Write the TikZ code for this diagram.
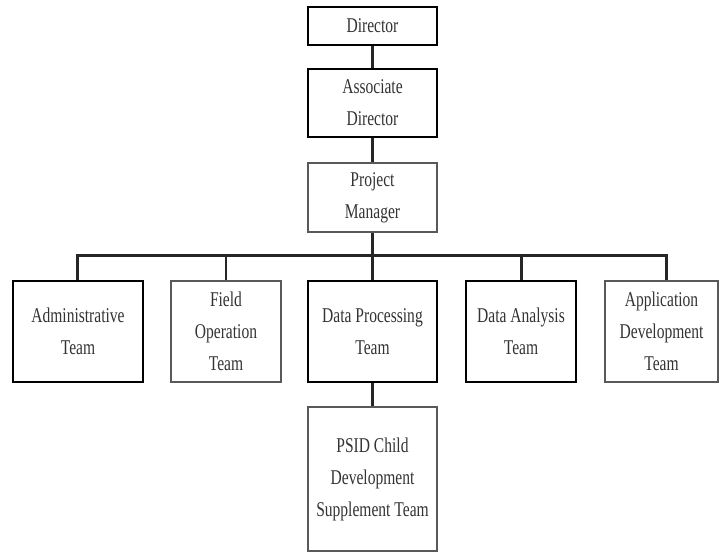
\documentclass[tikz,border=0pt]{standalone}
\usepackage{fontspec}
\setmainfont{Liberation Serif}[FakeStretch=0.74]
\begin{document}
\begin{tikzpicture}[x=1pt,y=-1pt,
  box/.style={draw=black, line width=2.2pt, rectangle, inner sep=0pt, align=center,
    font=\fontsize{21}{32}\selectfont, text=black!80},
  lbox/.style={box, draw=black!65},
  conn/.style={draw=black!85, line width=3pt}]
\useasboundingbox (0,0) rectangle (720,553);
\node[box, minimum width=129, minimum height=38] (dir) at (372.5,26) {Director};
\node[box, minimum width=129, minimum height=68] (adir) at (372.5,103) {Associate\\Director};
\node[lbox, minimum width=129, minimum height=69] (pm) at (372.5,197.5) {Project\\Manager};
\node[box, minimum width=130, minimum height=101] (adm) at (78,331.5) {Administrative\\Team};
\node[lbox, minimum width=110, minimum height=101] (fld) at (226,331.5) {Field\\Operation\\Team};
\node[box, minimum width=129, minimum height=101] (dp) at (372.5,331.5) {Data Processing\\Team};
\node[box, minimum width=110, minimum height=101] (da) at (521,331.5) {Data Analysis\\Team};
\node[lbox, minimum width=113, minimum height=101] (app) at (661.5,331.5) {Application\\Development\\Team};
\node[lbox, minimum width=129, minimum height=144] (psid) at (372.5,479) {PSID Child\\Development\\Supplement Team};
\coordinate (busL) at (77,256);
\coordinate (busR) at (666,256);
\draw[conn] (dir) -- (adir);
\draw[conn] (adir) -- (pm);
\draw[conn] (pm.south) -- (pm.south |- busL);
\draw[conn, line cap=rect] (busL) -- (busR);
\draw[conn] (busL) -- (busL |- adm.north);
\draw[conn, line width=2.2pt] (fld.north |- busL) -- (fld.north);
\draw[conn] (dp.north |- busL) -- (dp.north);
\draw[conn] (da.north |- busL) -- (da.north);
\draw[conn] (busR) -- (busR |- app.north);
\draw[conn] (dp) -- (psid);
\end{tikzpicture}
\end{document}
